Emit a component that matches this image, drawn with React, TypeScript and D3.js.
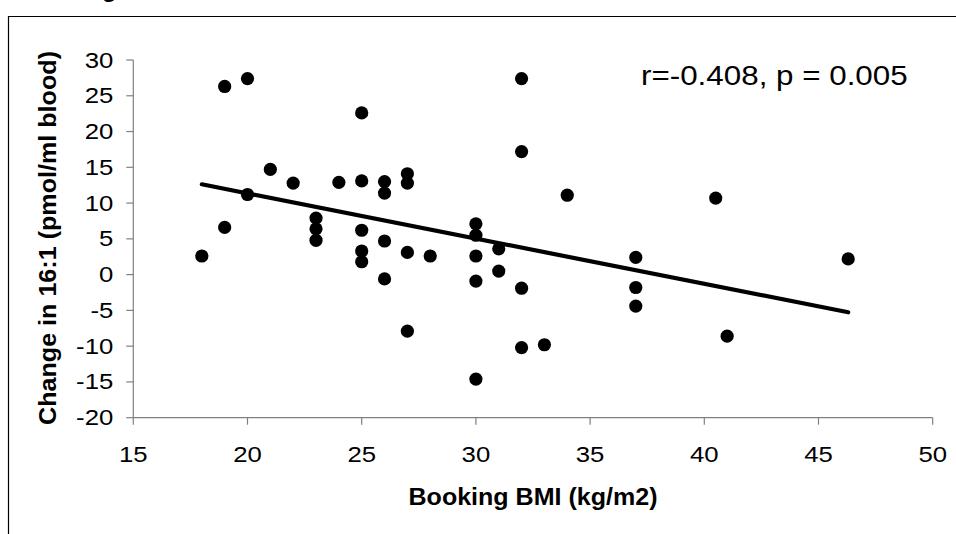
import React from "react";
import * as d3 from "d3";

const bmi = [18, 19, 19, 20, 20, 21, 22, 23, 23, 23, 24, 25, 25, 25, 25, 25, 26, 26, 26, 26, 27, 27, 27, 27, 28, 30, 30, 30, 30, 30, 31, 31, 32, 32, 32, 32, 33, 34, 37, 37, 37, 40.5, 41, 46.3];
const change = [2.6, 26.3, 6.6, 27.4, 11.2, 14.7, 12.8, 7.9, 6.4, 4.8, 12.9, 22.6, 13.1, 6.2, 3.3, 1.8, 13.0, 11.4, 4.7, -0.6, 14.1, 12.8, 3.1, -7.9, 2.6, 7.1, 5.5, 2.6, -0.9, -14.6, 3.6, 0.5, 27.4, 17.2, -1.9, -10.2, -9.8, 11.1, 2.4, -1.8, -4.4, 10.7, -8.6, 2.2];
const xTicks = [15, 20, 25, 30, 35, 40, 45, 50];
const yTicks = [-20, -15, -10, -5, 0, 5, 10, 15, 20, 25, 30];
const fitSlope = [-0.632];
const fitIntercept = [24.0];
const fitRange = [18, 46.3];
const annotation = "r=-0.408, p = 0.005";
const xTitle = "Booking BMI (kg/m2)";
const yTitle = "Change in 16:1 (pmol/ml blood)";

export default function App() {
  const x = d3.scaleLinear().domain([15, 50]).range([133.3, 932.7]);
  const y = d3.scaleLinear().domain([-20, 30]).range([417.7, 60]);
  const pts = bmi.map((b, i) => ({ b, c: change[i] }));
  const fit = fitRange.map((v) => [v, fitIntercept[0] + fitSlope[0] * v] as [number, number]);
  const line = d3.line<[number, number]>().x((d) => x(d[0])).y((d) => y(d[1]));
  const font = "'Liberation Sans', Arial, sans-serif";
  const axisColor = "#808080";
  const sx = 1.12;
  return (
    <svg
      width={956}
      height={534}
      style={{ position: "absolute", left: 0, top: 0, background: "#fff" }}
      fontFamily={font}
    >
      <rect x={0} y={0} width={956} height={534} fill="#fff" />
      {/* cut-off title descender */}
      <text x={102} y={-3} fontSize={24} fontWeight="bold" fill="#000">g</text>
      {/* frame */}
      <path d="M8.5,534 V16.5 H956" fill="none" stroke="#000" strokeWidth={1.2} />
      {/* axes */}
      <line x1={x(15)} x2={x(50)} y1={y(-20)} y2={y(-20)} stroke={axisColor} strokeWidth={1.2} />
      <line x1={x(15)} x2={x(15)} y1={y(-20)} y2={y(30)} stroke={axisColor} strokeWidth={1.2} />
      {xTicks.map((t) => (
        <g key={"xt" + t}>
          <line x1={x(t)} x2={x(t)} y1={y(-20)} y2={y(-20) + 7} stroke={axisColor} strokeWidth={1.2} />
          <text
            transform={`translate(${x(t)},${y(-20) + 44}) scale(${sx},1)`}
            textAnchor="middle"
            fontSize={23}
            fill="#000"
          >
            {t}
          </text>
        </g>
      ))}
      {yTicks.map((t) => (
        <g key={"yt" + t}>
          <line x1={x(15) - 7} x2={x(15)} y1={y(t)} y2={y(t)} stroke={axisColor} strokeWidth={1.2} />
          <text
            transform={`translate(${x(15) - 20},${y(t) + 7.5}) scale(${sx},1)`}
            textAnchor="end"
            fontSize={23}
            fill="#000"
          >
            {t}
          </text>
        </g>
      ))}
      {/* points */}
      {pts.map((p, i) => (
        <circle key={i} cx={x(p.b)} cy={y(p.c)} r={6.6} fill="#000" />
      ))}
      {/* fit line */}
      <path d={line(fit) || ""} fill="none" stroke="#000" strokeWidth={4.2} strokeLinecap="round" />
      {/* annotation */}
      <text
        transform={`translate(641,85) scale(${sx},1)`}
        fontSize={28}
        fill="#000"
      >
        {annotation}
      </text>
      {/* axis titles */}
      <text
        x={533}
        y={505}
        textAnchor="middle"
        fontSize={24}
        fontWeight="bold"
        fill="#000"
        textLength={249}
        lengthAdjust="spacingAndGlyphs"
      >
        {xTitle}
      </text>
      <text
        transform={`translate(56,238) rotate(-90) scale(1,${sx})`}
        textAnchor="middle"
        fontSize={22}
        fontWeight="bold"
        fill="#000"
        textLength={374}
        lengthAdjust="spacingAndGlyphs"
      >
        {yTitle}
      </text>
    </svg>
  );
}
